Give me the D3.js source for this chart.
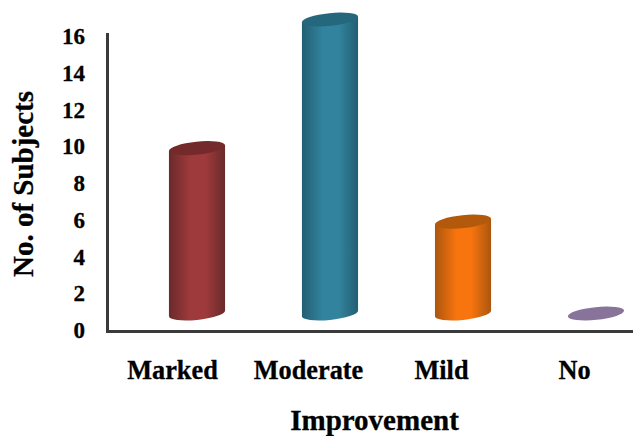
<!DOCTYPE html>
<html>
<head>
<meta charset="utf-8">
<script src="https://cdn.jsdelivr.net/npm/d3@7"></script>
<style>
  html, body { margin: 0; padding: 0; background: #fff; }
  text { font-family: "Liberation Serif", serif; font-weight: bold; fill: #000; stroke: #000; stroke-width: 0.3px; }
</style>
</head>
<body>
<svg id="chart" width="633" height="436"></svg>
<script>
const categories = ["Marked", "Moderate", "Mild", "No"];
const subjects = [9, 16, 5, 0];
const yTicks = [0, 2, 4, 6, 8, 10, 12, 14, 16];
const barEdge = ["#6a2a2b", "#235f73", "#ab560e", "#88749a"];
const barMid = ["#9e3a3b", "#32849e", "#f7740e", "#88749a"];
const barTop = ["#742a2b", "#25687e", "#b2590c", "#88749a"];

const svg = d3.select("#chart");

// Category centres on the front wall; the columns sit further back in the 3-D floor.
const x = d3.scalePoint().domain(categories).range([175, 574]);
const y = d3.scaleLinear().domain([0, 16]).range([330, 36]);
const depthX = 22, depthY = -16.5;

// Tilted ellipse of the column caps
const rx = 28.2, ry = 6.4, tilt = -6 * Math.PI / 180;
const halfW = Math.hypot(rx * Math.cos(tilt), ry * Math.sin(tilt));
const edgeDy = (rx * rx - ry * ry) * Math.sin(tilt) * Math.cos(tilt) / halfW;
const tiltDeg = tilt * 180 / Math.PI;

const defs = svg.append("defs");
categories.forEach((c, i) => {
  const g = defs.append("linearGradient").attr("id", "shade" + i);
  [[0, barEdge[i]], [0.38, barMid[i]], [0.65, barMid[i]], [1, barEdge[i]]].forEach(([o, col]) =>
    g.append("stop").attr("offset", o).attr("stop-color", col));
});

const bars = svg.selectAll("g.bar").data(categories).join("g").attr("class", "bar");

bars.each(function (c, i) {
  const cx = x(c) + depthX;
  const yBase = y(0) + depthY;
  const yTop = y(subjects[i]) + depthY;
  const g = d3.select(this);
  if (subjects[i] > 0) {
    g.append("path")
      .attr("fill", `url(#shade${i})`)
      .attr("d", `M${cx - halfW},${yTop - edgeDy} L${cx - halfW},${yBase - edgeDy}
                  A${rx},${ry} ${tiltDeg} 0 0 ${cx + halfW},${yBase + edgeDy}
                  L${cx + halfW},${yTop + edgeDy} Z`);
  }
  g.append("ellipse")
    .attr("rx", rx).attr("ry", ry)
    .attr("transform", `translate(${cx},${yTop}) rotate(${tiltDeg})`)
    .attr("fill", barTop[i]);
});

// Axes
const axisColor = "#3a3a3a";
svg.append("path")
  .attr("d", `M107.5,${y(16) - 3} V${y(0) + 1.5} H633`)
  .attr("fill", "none").attr("stroke", axisColor).attr("stroke-width", 3);

const yAxis = svg.append("g").attr("transform", "translate(85,0)")
  .call(d3.axisLeft(y).tickValues(yTicks).tickSize(0).tickPadding(0));
yAxis.select(".domain").remove();
yAxis.attr("font-family", null);
yAxis.selectAll("text").attr("font-size", 23).attr("dy", "0.33em");

const xAxis = svg.append("g").attr("transform", "translate(0,379)")
  .call(d3.axisBottom(x).tickSize(0).tickPadding(0));
xAxis.select(".domain").remove();
xAxis.attr("font-family", null);
xAxis.selectAll("text").attr("font-size", 26.3).attr("y", 0).attr("dy", 0)
  .attr("x", d => d === "Marked" ? -3 : 0);

svg.append("text").attr("x", 374.5).attr("y", 430)
  .attr("text-anchor", "middle").attr("font-size", 29).text("Improvement");

svg.append("text").attr("transform", "translate(33,184) rotate(-90)")
  .attr("text-anchor", "middle").attr("font-size", 29).text("No. of Subjects");
</script>
</body>
</html>
